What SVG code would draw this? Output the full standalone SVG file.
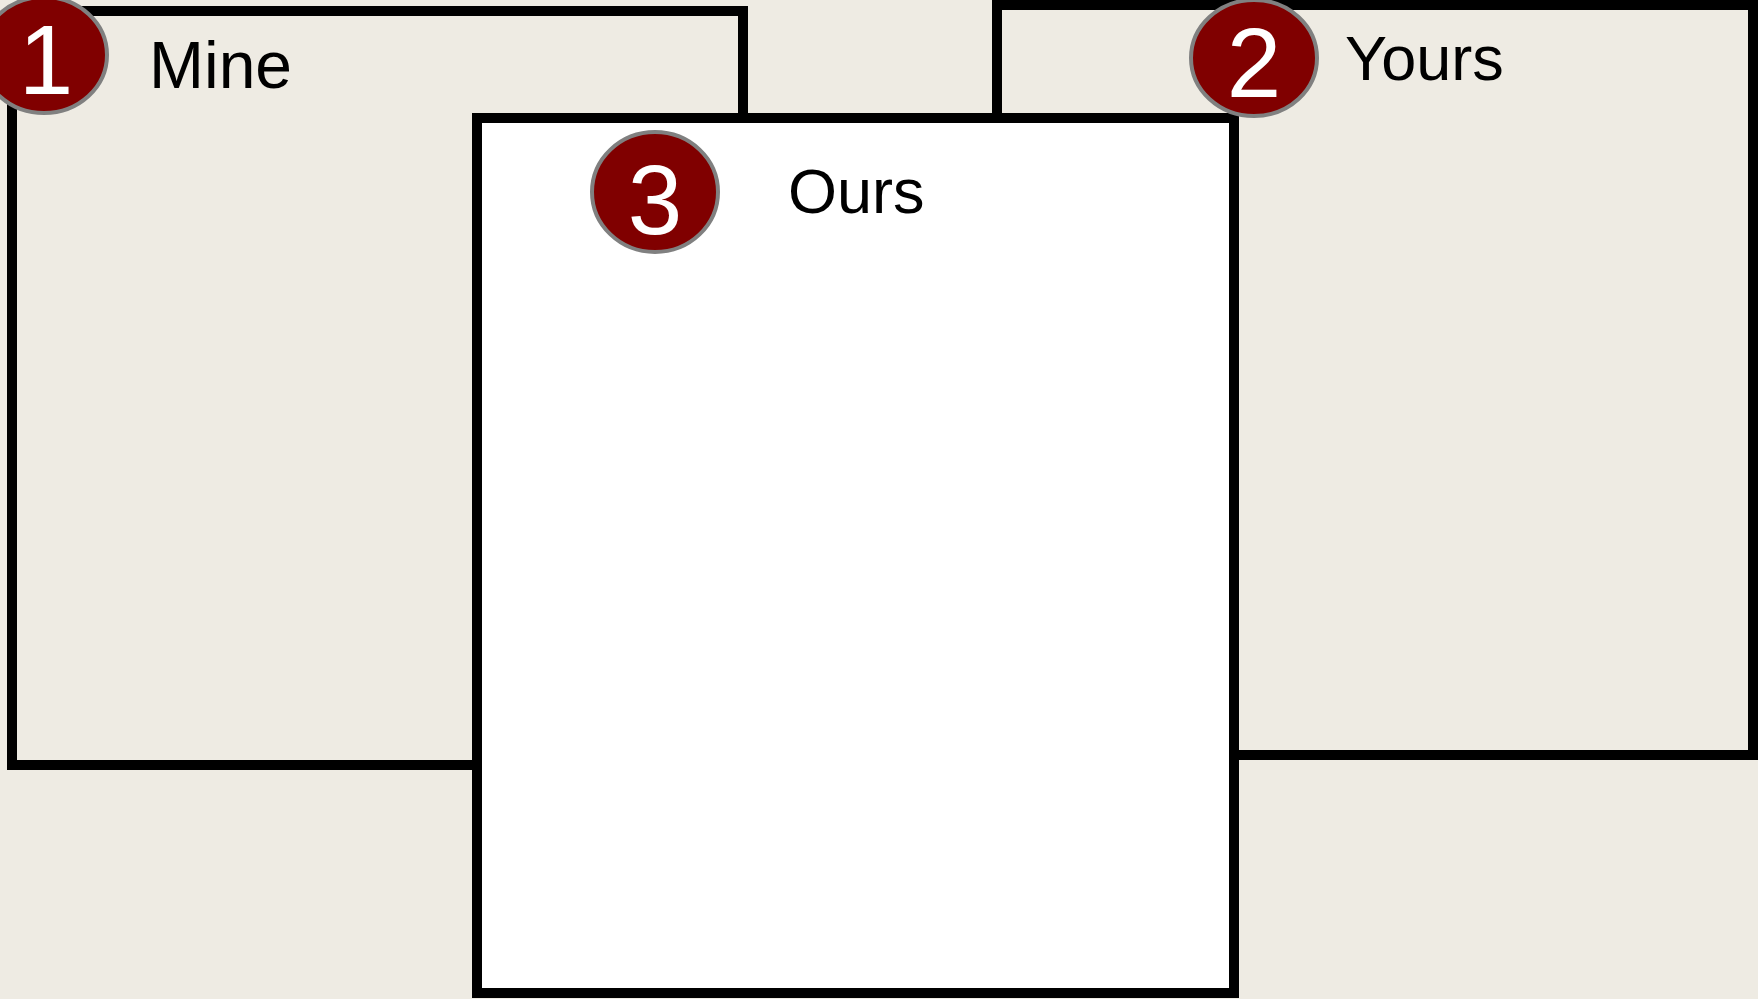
<svg xmlns="http://www.w3.org/2000/svg" width="1758" height="999" viewBox="0 0 1758 999">
<style>
.box{stroke:#000;stroke-width:10}
.badge{fill:#800000;stroke:#808080;stroke-width:4}
.num{fill:#fff;font-family:"Liberation Sans",Arial,sans-serif;font-size:98px;text-anchor:middle}
.lbl{fill:#000;font-family:"Liberation Sans",Arial,sans-serif;font-size:63px}
</style>
<rect x="0" y="0" width="1758" height="999" fill="#EEEBE3"/>
<g id="connectors"></g>
<g id="mine">
<rect class="box" x="12" y="11" width="731" height="754" fill="#EEEBE3"/>
<ellipse class="badge" cx="44" cy="55" rx="63" ry="58"/>
<text class="num" x="46" y="94">1</text>
<text class="lbl" x="149" y="88" style="font-size:66px">Mine</text>
</g>
<g id="yours">
<rect class="box" x="997" y="5" width="756" height="750" fill="#EEEBE3"/>
</g>
<g id="ours">
<rect class="box" x="477" y="118" width="757" height="875" fill="#FFFFFF"/>
<ellipse class="badge" cx="655" cy="192" rx="63" ry="60"/>
<text class="num" x="655" y="234">3</text>
<text class="lbl" x="788" y="213">Ours</text>
</g>
<g id="yours-label">
<ellipse class="badge" cx="1254" cy="58" rx="63" ry="58"/>
<text class="num" x="1254" y="97">2</text>
<text class="lbl" x="1345" y="80">Yours</text>
</g>
</svg>
